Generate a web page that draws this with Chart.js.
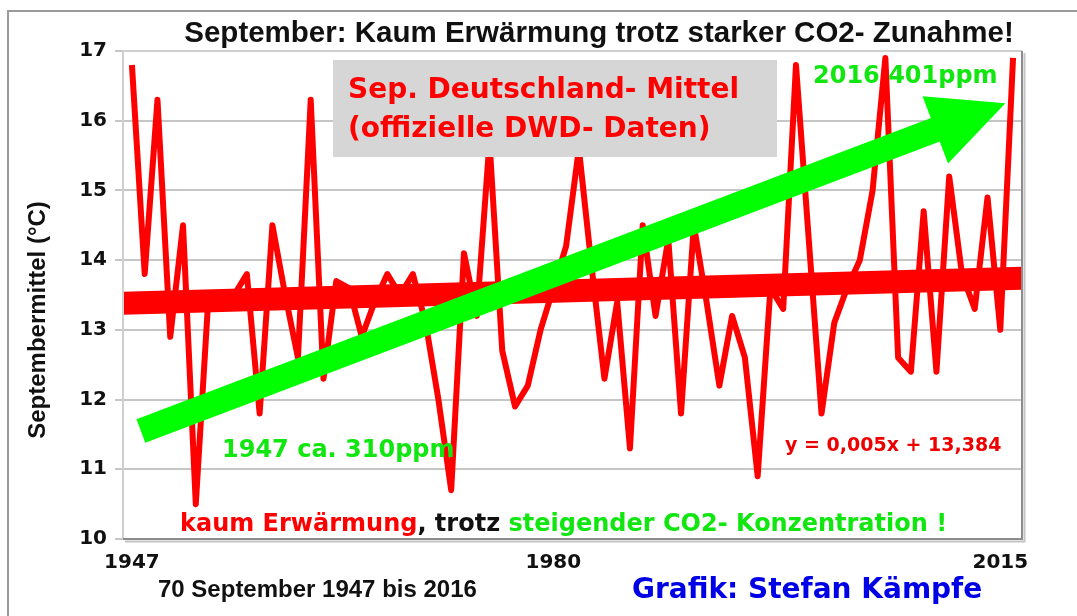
<!DOCTYPE html>
<html lang="de">
<head>
<meta charset="utf-8">
<title>September: Kaum Erwärmung trotz starker CO2- Zunahme!</title>
<script src="https://cdn.jsdelivr.net/npm/chart.js@4.4.1/dist/chart.umd.min.js"></script>
<style>
  html, body { margin: 0; padding: 0; background: #fff; }
  #wrap { position: relative; width: 1077px; height: 616px; }
</style>
</head>
<body>
<div id="wrap"><canvas id="chart" width="1077" height="616"></canvas></div>
<script>
// ============================================================
// DATA — September mean temperature Germany (DWD), 1947..2016
// ============================================================
const FIRST_YEAR = 1947;
const septemberTemps = [
  16.8, 13.8, 16.3, 12.9, 14.5, 10.5, 13.5, 13.4, 13.5, 13.8,   // 1947-1956
  11.8, 14.5, 13.5, 12.6, 16.3, 12.3, 13.7, 13.6, 12.9, 13.4,   // 1957-1966
  13.8, 13.5, 13.8, 13.1, 12.0, 10.7, 14.1, 13.2, 15.7, 12.7,   // 1967-1976
  11.9, 12.2, 13.0, 13.6, 14.2, 15.6, 13.9, 12.3, 13.4, 11.3,   // 1977-1986
  14.5, 13.2, 14.3, 11.8, 14.5, 13.4, 12.2, 13.2, 12.6, 10.9,   // 1987-1996
  13.6, 13.3, 16.8, 14.3, 11.8, 13.1, 13.6, 14.0, 15.0, 16.9,   // 1997-2006
  12.6, 12.4, 14.7, 12.4, 15.2, 13.8, 13.3, 14.9, 13.0, 16.9    // 2007-2016
];
const years = septemberTemps.map((_, i) => FIRST_YEAR + i);

// linear trend y = 0,005x + 13,384 (read at both edges of the plot)
const trendYears = [1946.3, 2016.7];
const trendTemps = [13.38, 13.74];

const xTickYears = [1947, 1980, 2015];
const yMin = 10;
const yMax = 17;

// green CO2 arrow, in data units (year, °C)
const arrowFrom = { year: 1947.7, temp: 11.55 };
const arrowTo = { year: 2015.4, temp: 16.25 };

const COLORS = {
  red: '#ff0000',
  green: '#00ff00',
  greenText: '#11e611',
  blue: '#0000e6',
  black: '#111111',
  grid: '#c6c6c6',
  box: '#d6d6d6'
};

const HEAVY = '"DejaVu Sans", sans-serif';
const ARIAL = '"Liberation Sans", Arial, sans-serif';

// ============================================================
// ANNOTATIONS — texts, box, arrow, plot frame
// ============================================================
function drawParts(ctx, parts, x, y, font) {
  ctx.font = font;
  let cx = x;
  parts.forEach(p => {
    ctx.fillStyle = p.color;
    ctx.fillText(p.text, cx, y);
    cx += ctx.measureText(p.text).width;
  });
}

const decorations = {
  id: 'decorations',
  beforeDraw(chart) {
    const { ctx, width, height } = chart;
    ctx.save();
    ctx.fillStyle = '#fff';
    ctx.fillRect(0, 0, width, height);
    // outer picture frame
    ctx.strokeStyle = '#9a9a9a';
    ctx.lineWidth = 2;
    ctx.beginPath();
    ctx.moveTo(8, height);
    ctx.lineTo(8, 11);
    ctx.lineTo(width, 11);
    ctx.stroke();
    ctx.restore();
  },
  afterDatasetsDraw(chart) {
    const { ctx, chartArea: a, scales: { x, y } } = chart;
    ctx.save();

    // green arrow
    const x0 = x.getPixelForValue(arrowFrom.year), y0 = y.getPixelForValue(arrowFrom.temp);
    const x1 = x.getPixelForValue(arrowTo.year), y1 = y.getPixelForValue(arrowTo.temp);
    const len = Math.hypot(x1 - x0, y1 - y0);
    const ux = (x1 - x0) / len, uy = (y1 - y0) / len;
    const headLen = 75, headHalf = 36;
    const bx = x1 - ux * headLen, by = y1 - uy * headLen;
    ctx.strokeStyle = COLORS.green;
    ctx.fillStyle = COLORS.green;
    ctx.lineWidth = 25;
    ctx.lineCap = 'butt';
    ctx.beginPath();
    ctx.moveTo(x0, y0);
    ctx.lineTo(bx + ux * 3, by + uy * 3);
    ctx.stroke();
    ctx.beginPath();
    ctx.moveTo(x1, y1);
    ctx.lineTo(bx - uy * headHalf, by + ux * headHalf);
    ctx.lineTo(bx + uy * headHalf, by - ux * headHalf);
    ctx.closePath();
    ctx.fill();

    // grey label box
    ctx.fillStyle = COLORS.box;
    ctx.fillRect(333, 60, 444, 97);
    ctx.textBaseline = 'alphabetic';
    ctx.textAlign = 'left';
    ctx.fillStyle = COLORS.red;
    ctx.font = `bold 28px ${HEAVY}`;
    ctx.fillText('Sep. Deutschland- Mittel', 348, 98);
    ctx.fillText('(offizielle DWD- Daten)', 348, 137);

    // ppm labels
    ctx.fillStyle = COLORS.greenText;
    ctx.font = `bold 24px ${HEAVY}`;
    ctx.fillText('2016 401ppm', 813, 83);
    ctx.fillText('1947 ca. 310ppm', 222, 457);

    // trend equation
    ctx.fillStyle = '#ee0000';
    ctx.font = `bold 19px ${HEAVY}`;
    ctx.fillText('y = 0,005x + 13,384', 785, 451);

    // bottom statement
    drawParts(ctx, [
      { text: 'kaum Erwärmung', color: COLORS.red },
      { text: ', trotz ', color: COLORS.black },
      { text: 'steigender CO2- Konzentration !', color: COLORS.greenText }
    ], 180, 531, `bold 24px ${HEAVY}`);

    // plot frame
    ctx.lineWidth = 2;
    ctx.strokeStyle = '#cfcfcf';
    ctx.beginPath();
    ctx.moveTo(a.left, a.bottom);
    ctx.lineTo(a.left, a.top);
    ctx.lineTo(a.right, a.top);
    ctx.stroke();
    ctx.strokeStyle = '#c4c4c4';
    ctx.beginPath();
    ctx.moveTo(a.left + 2, a.bottom + 2.5);
    ctx.lineTo(a.right + 2.5, a.bottom + 2.5);
    ctx.lineTo(a.right + 2.5, a.top + 2);
    ctx.stroke();
    ctx.strokeStyle = '#8c8c8c';
    ctx.beginPath();
    ctx.moveTo(a.left, a.bottom);
    ctx.lineTo(a.right, a.bottom);
    ctx.lineTo(a.right, a.top);
    ctx.stroke();
    ctx.restore();
  },
  afterDraw(chart) {
    const { ctx } = chart;
    ctx.save();
    ctx.textBaseline = 'alphabetic';
    ctx.fillStyle = COLORS.black;
    ctx.textAlign = 'center';
    ctx.font = `bold 29.5px ${ARIAL}`;
    ctx.fillText('September: Kaum Erwärmung trotz starker CO2- Zunahme!', 599, 42);

    ctx.textAlign = 'left';
    ctx.font = `bold 24px ${ARIAL}`;
    ctx.fillText('70 September 1947 bis 2016', 158, 597);

    ctx.fillStyle = COLORS.blue;
    ctx.font = `bold 28px ${HEAVY}`;
    ctx.fillText('Grafik: Stefan Kämpfe', 632, 598);

    // y axis title
    ctx.fillStyle = COLORS.black;
    ctx.translate(38, 320);
    ctx.rotate(-Math.PI / 2);
    ctx.textAlign = 'center';
    ctx.textBaseline = 'middle';
    ctx.font = `bold 24px ${ARIAL}`;
    ctx.fillText('Septembermittel (°C)', 0, 0);
    ctx.restore();
  }
};

// ============================================================
// CHART
// ============================================================
new Chart(document.getElementById('chart'), {
  type: 'line',
  data: {
    datasets: [
      {
        label: 'September-Mittel',
        data: years.map((yr, i) => ({ x: yr, y: septemberTemps[i] })),
        borderColor: COLORS.red,
        borderWidth: 6,
        borderJoinStyle: 'round',
        pointRadius: 0,
        tension: 0
      },
      {
        label: 'Trend',
        data: trendYears.map((yr, i) => ({ x: yr, y: trendTemps[i] })),
        borderColor: COLORS.red,
        borderWidth: 23,
        borderCapStyle: 'butt',
        pointRadius: 0,
        tension: 0
      }
    ]
  },
  options: {
    responsive: false,
    animation: false,
    devicePixelRatio: 1,
    layout: { padding: { left: 0, top: 51, right: 55, bottom: 0 } },
    plugins: { legend: { display: false }, title: { display: false }, tooltip: { enabled: false } },
    scales: {
      x: {
        type: 'linear',
        min: trendYears[0],
        max: trendYears[1],
        grid: { display: false },
        border: { display: false },
        afterBuildTicks: scale => { scale.ticks = xTickYears.map(v => ({ value: v })); },
        afterFit: scale => { scale.height = 77; },
        ticks: {
          autoSkip: false,
          maxRotation: 0,
          padding: 4,
          color: COLORS.black,
          font: { family: HEAVY, weight: 'bold', size: 20 },
          callback: v => String(v)
        }
      },
      y: {
        min: yMin,
        max: yMax,
        grid: { color: COLORS.grid, lineWidth: 2, tickLength: 8, tickColor: COLORS.grid },
        border: { display: false },
        afterFit: scale => { scale.width = 123; },
        ticks: {
          stepSize: 1,
          padding: 8,
          color: COLORS.black,
          font: { family: HEAVY, weight: 'bold', size: 20 }
        }
      }
    }
  },
  plugins: [decorations]
});
</script>
</body>
</html>
